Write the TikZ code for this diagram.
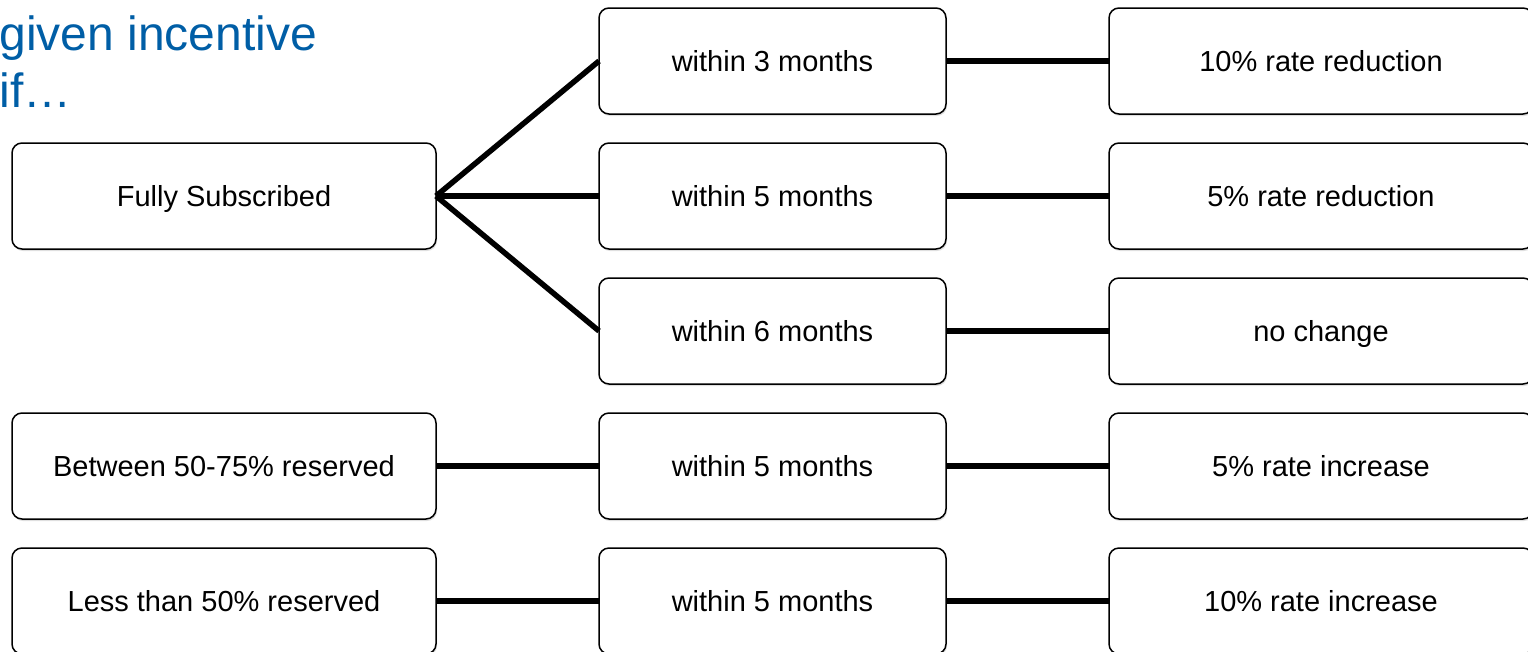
\documentclass[tikz,border=0pt]{standalone}
\usepackage{fontspec}
\setmainfont{Liberation Sans}
\usepackage{tikz}
\usetikzlibrary{positioning, shadows}
\definecolor{headblue}{RGB}{0, 94, 166}

\begin{document}
\begin{tikzpicture}[x=1pt, y=1pt, node distance=29pt and 163pt,
    every node/.style={align=center, font=\fontsize{29}{34}\selectfont},
    box/.style={draw, line width=1.5pt, rounded corners=10pt, fill=white, outer sep=0pt,
      minimum height=106pt, text height=21pt, text depth=0pt,
      drop shadow={opacity=0.25, shadow xshift=1pt, shadow yshift=-2pt}},
    wide/.style={box, minimum width=424pt},
    narrow/.style={box, minimum width=347pt},
    link/.style={line width=5.5pt}]
    \useasboundingbox (0,0) rectangle (1528,-651);

    \node[anchor=base west, align=left, text=headblue, font=\fontsize{48}{57}\selectfont] (head) at (-4,-107)
      {given incentive\\if…};

    % middle column
    \node[narrow] (m3) at (772.5,-61) {within 3 months};
    \node[narrow, below=of m3] (m5) {within 5 months};
    \node[narrow, below=of m5] (m6) {within 6 months};
    \node[narrow, below=of m6] (m5b) {within 5 months};
    \node[narrow, below=of m5b] (m5c) {within 5 months};

    % left column
    \node[wide, left=of m5] (full) {Fully Subscribed};
    \node[wide, left=of m5b] (half) {Between 50-75\% reserved};
    \node[wide, left=of m5c] (low) {Less than 50\% reserved};

    % right column
    \node[wide, right=of m3] (r10) {10\% rate reduction};
    \node[wide, right=of m5] (r5) {5\% rate reduction};
    \node[wide, right=of m6] (r0) {no change};
    \node[wide, right=of m5b] (i5) {5\% rate increase};
    \node[wide, right=of m5c] (i10) {10\% rate increase};

    \draw[link] (full.east) -- (m3.west);
    \draw[link] (full.east) -- (m5.west);
    \draw[link] (full.east) -- (m6.west);
    \draw[link] (half) -- (m5b);
    \draw[link] (low) -- (m5c);

    \draw[link] (m3) -- (r10);
    \draw[link] (m5) -- (r5);
    \draw[link] (m6) -- (r0);
    \draw[link] (m5b) -- (i5);
    \draw[link] (m5c) -- (i10);
  \end{tikzpicture}
\end{document}
